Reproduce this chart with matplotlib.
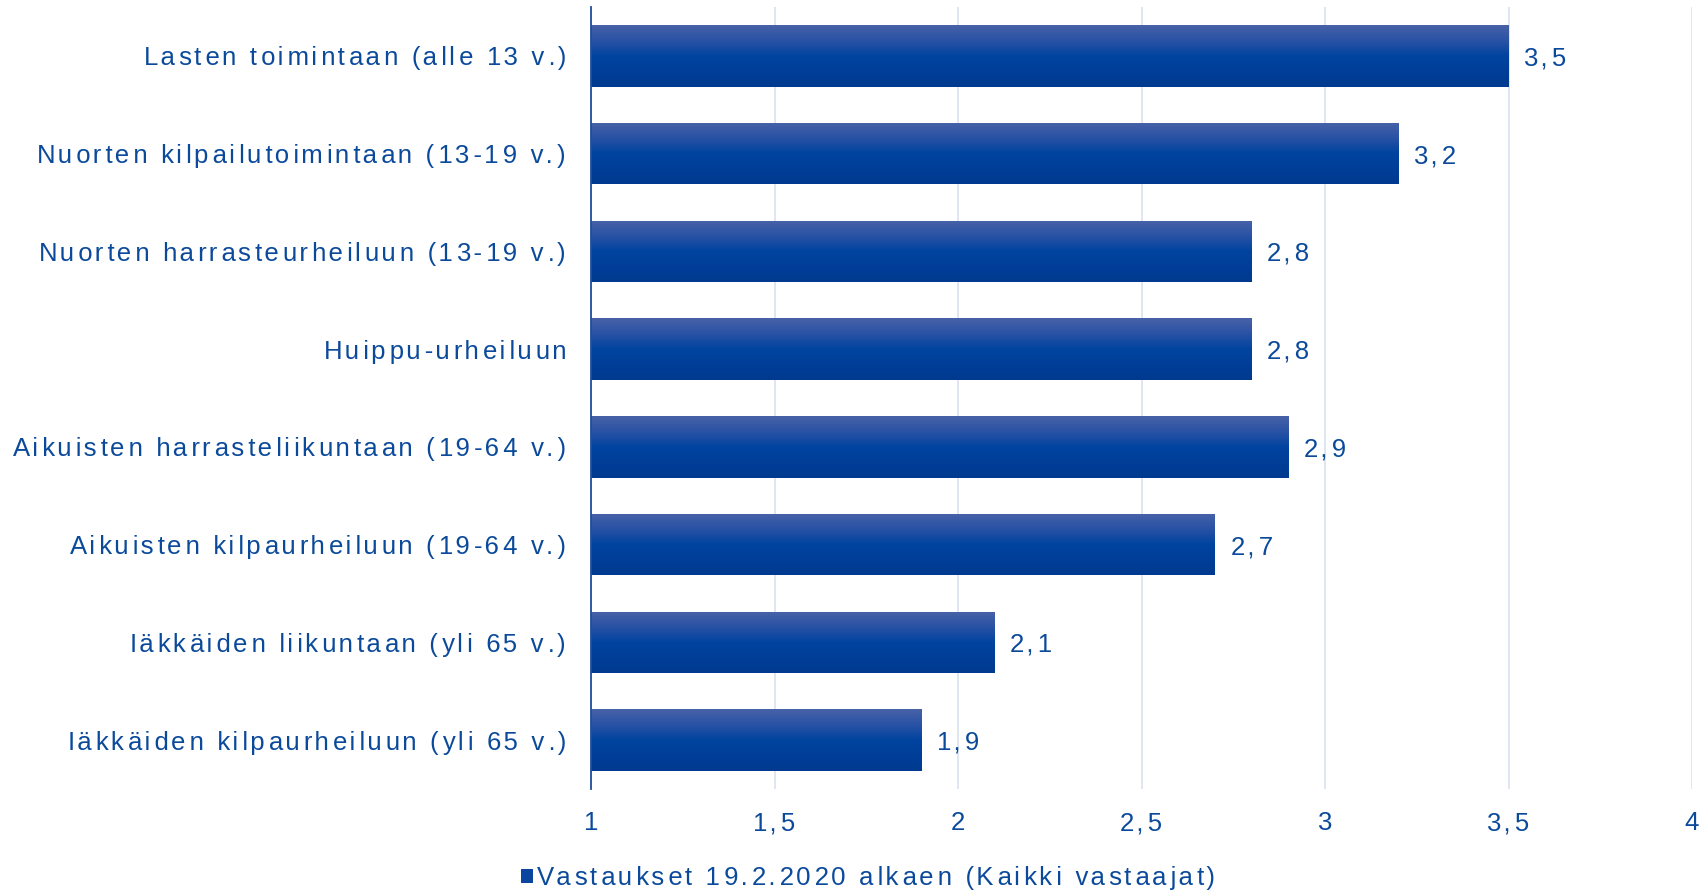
import numpy as np
import matplotlib.pyplot as plt
from matplotlib.colors import LinearSegmentedColormap
from matplotlib.patches import Rectangle

# ---------------------
# DATA
# ---------------------
categories = [
    "Lasten toimintaan (alle 13 v.)",
    "Nuorten kilpailutoimintaan (13-19 v.)",
    "Nuorten harrasteurheiluun (13-19 v.)",
    "Huippu-urheiluun",
    "Aikuisten harrasteliikuntaan (19-64 v.)",
    "Aikuisten kilpaurheiluun (19-64 v.)",
    "Iäkkäiden liikuntaan (yli 65 v.)",
    "Iäkkäiden kilpaurheiluun (yli 65 v.)",
]
values = [3.5, 3.2, 2.8, 2.8, 2.9, 2.7, 2.1, 1.9]
xticks = [1, 1.5, 2, 2.5, 3, 3.5, 4]
series_name = "Vastaukset 19.2.2020 alkaen (Kaikki vastaajat)"

# ---------------------
# STYLE
# ---------------------
TXT = "#0B4A9B"
GRID = "#DCE4F0"
FS = 18.5
plt.rcParams['font.family'] = ['Liberation Sans', 'DejaVu Sans']

def track(s):
    # loose letter spacing like the source: alternate hair / six-per-em spaces
    out = s[0]
    for i, ch in enumerate(s[1:]):
        out += ("\u200a" if i % 2 == 0 else "\u2006") + ch
    return out

def comma(v):
    return track(f"{v:g}".replace(".", ","))

grad = LinearSegmentedColormap.from_list(
    "bar", ["#4862A8", "#2A52A4", "#0044A0", "#003E98", "#003A90"])

fig = plt.figure(figsize=(17.01, 8.92), dpi=100)
ax = fig.add_axes([591 / 1701, 103 / 892, 1101 / 1701, 782 / 892])

y = np.arange(len(categories))
bar_h = 0.63
bars = ax.barh(y, [v - 1 for v in values], left=1, height=bar_h,
               color="#0044A0", zorder=2)

# vertical gradient inside each bar
g = np.linspace(0, 1, 256).reshape(-1, 1)
for b in bars:
    x0, y0 = b.get_x(), b.get_y()
    w, h = b.get_width(), b.get_height()
    im = ax.imshow(g, cmap=grad, aspect="auto", origin="upper",
                   extent=(x0, x0 + w, y0 + h, y0), zorder=3)
    im.set_clip_path(b)

for yi, v in zip(y, values):
    ax.text(v + 0.043, yi, comma(v), va="center_baseline", ha="left",
            fontsize=FS, color=TXT, zorder=4)

ax.set_xlim(1, 4)
ax.set_ylim(len(categories) - 0.5, -0.5)
ax.set_xticks(xticks)
ax.set_xticklabels([comma(t) for t in xticks])
ax.set_yticks(y)
ax.set_yticklabels([track(c) for c in categories])
ax.tick_params(axis="both", length=0, labelsize=FS, labelcolor=TXT)
ax.tick_params(axis="x", pad=16)
ax.tick_params(axis="y", pad=18)

ax.grid(axis="x", color=GRID, linewidth=1.3, zorder=0)
for s in ["top", "right", "bottom"]:
    ax.spines[s].set_visible(False)
ax.spines["left"].set_color("#1F4E9C")
ax.spines["left"].set_linewidth(1.3)
ax.spines["left"].set_zorder(5)

# legend
handle = Rectangle((0, 0), 1, 1, facecolor="#0A45A0")
leg = fig.legend([handle], [track(series_name)], loc="center",
                 bbox_to_anchor=(868 / 1701, 1 - 878 / 892), frameon=False,
                 fontsize=FS, handlelength=0.45, handleheight=0.45,
                 handletextpad=0.15)
for t in leg.get_texts():
    t.set_color(TXT)

fig.savefig("out.png", dpi=100)
